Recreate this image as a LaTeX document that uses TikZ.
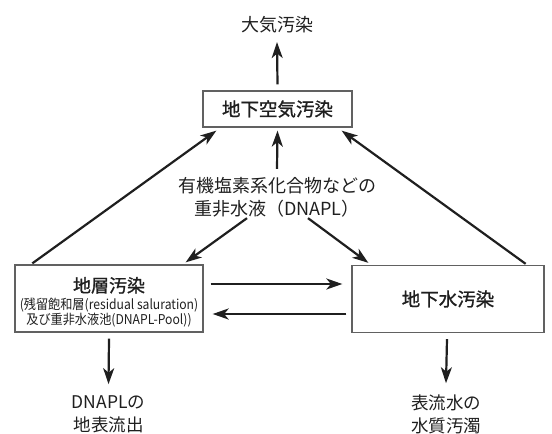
\documentclass[tikz,border=0pt]{standalone}
\usepackage{fontspec}
\setmainfont{Noto Sans CJK JP}
\newfontfamily\medfont[FakeBold=1.2]{Noto Sans CJK JP}
\usetikzlibrary{arrows.meta}
\definecolor{ink}{gray}{0.12}
\definecolor{frame}{gray}{0.38}
\tikzset{
  arr/.style={draw=ink, line width=2.2pt, -{Stealth[length=16pt,width=11pt,inset=4.5pt]}},
  box/.style={draw=frame, line width=1.3pt, rectangle, inner sep=0pt, text=ink, align=center},
  lbl/.style={inner sep=0pt, text=ink, align=center},
  big/.style={font=\fontsize{18}{23}\selectfont},
}
\newcommand{\smalltxt}{\fontsize{13.5}{17}\selectfont}
\newcommand{\bigmed}{\fontsize{18}{20}\selectfont\medfont}
\begin{document}
\begin{tikzpicture}[x=1pt,y=-1pt]
\useasboundingbox (0,0) rectangle (552,434);
% nodes
\node[lbl,big] (air) at (277,25) {大気汚染};
\node[box,minimum width=149pt,minimum height=36pt,font=\fontsize{18.5}{22}\selectfont\medfont] (top) at (277.5,109) {地下空気汚染};
\node[lbl,big] (src) at (277,197) {有機塩素系化合物などの\\重非水液（DNAPL）};
\node[box,minimum width=188pt,minimum height=67pt] (left) at (109,298.5)
  {\bigmed\rule{0pt}{22pt}地層汚染\\[3pt]\normalfont\smalltxt\scalebox{0.9}[1]{(残留飽和層(residual saluration)}\\\smalltxt\scalebox{0.9}[1]{及び重非水液池(DNAPL-Pool))}};
\node[box,minimum width=192pt,minimum height=67pt,font=\fontsize{18.5}{22}\selectfont\medfont] (right) at (448,299) {地下水汚染};
\node[lbl,font=\fontsize{17.5}{23}\selectfont] (out1) at (108.5,414) {DNAPLの\\地表流出};
\node[lbl,font=\fontsize{17.5}{23}\selectfont] (out2) at (446,414) {表流水の\\水質汚濁};
% connectors
\draw[arr] ([yshift=6pt]top.north) -- ([yshift=-8.5pt]air.south);
\draw[arr] ([yshift=8pt]src.north) -- ([yshift=-3pt]top.south);
\draw[arr] ([xshift=18pt,yshift=1pt]left.north west) -- ([xshift=14pt,yshift=-3pt]top.south west);
\draw[arr] ([xshift=-19pt,yshift=1pt]right.north east) -- ([xshift=-11pt,yshift=-3pt]top.south east);
\draw[arr] ([xshift=-30pt,yshift=-1pt]src.south) -- ([xshift=-18pt,yshift=2pt]left.north east);
\draw[arr] ([xshift=31pt,yshift=-1pt]src.south) -- ([xshift=17pt,yshift=2pt]right.north west);
\draw[arr] ([xshift=7pt,yshift=14.5pt]left.east) -- ([xshift=-9pt,yshift=15pt]right.west);
\draw[arr] ([xshift=-5pt,yshift=-15pt]right.west) -- ([xshift=9pt,yshift=-15.5pt]left.east);
\draw[arr] ([yshift=-6pt]left.south) -- ([yshift=11pt]out1.north);
\draw[arr] ([xshift=-1pt,yshift=-6pt]right.south) -- ([yshift=11pt]out2.north);
\end{tikzpicture}
\end{document}
